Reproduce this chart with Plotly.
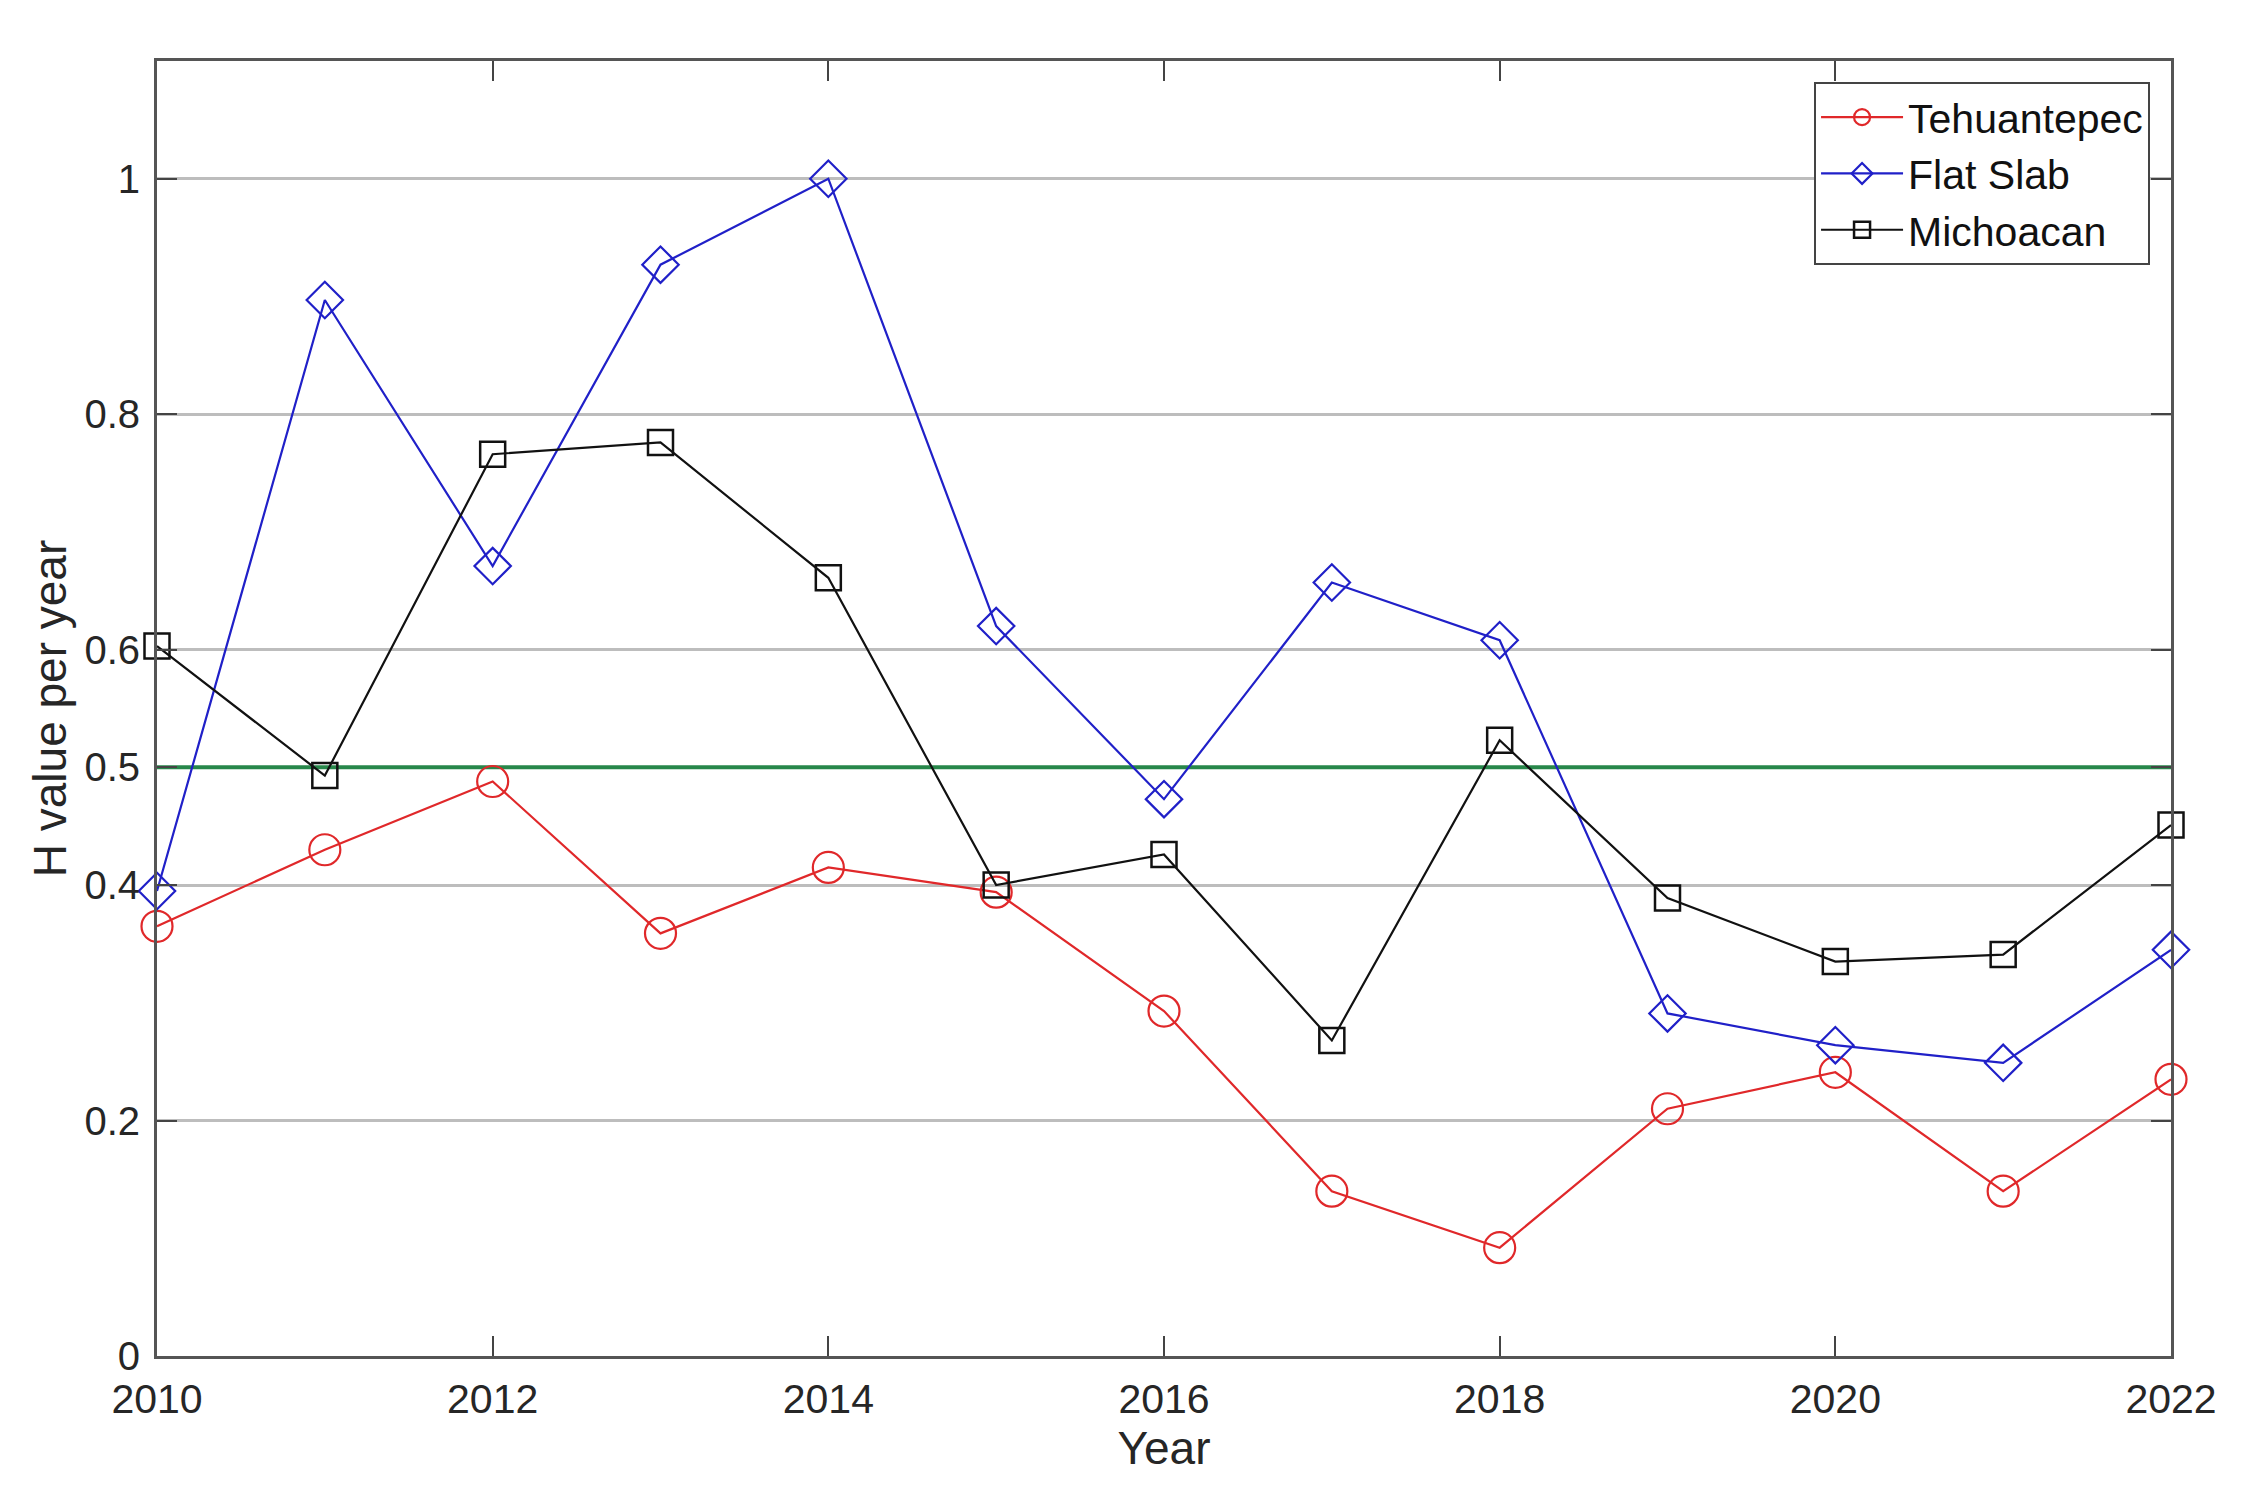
import plotly.graph_objects as go

years = [2010, 2011, 2012, 2013, 2014, 2015, 2016, 2017, 2018, 2019, 2020, 2021, 2022]
tehuantepec = [0.365, 0.430, 0.488, 0.359, 0.415, 0.394, 0.293, 0.140, 0.092, 0.210, 0.241, 0.140, 0.235]
flat_slab = [0.395, 0.897, 0.671, 0.927, 1.000, 0.620, 0.473, 0.657, 0.608, 0.291, 0.264, 0.249, 0.345]
michoacan = [0.603, 0.493, 0.766, 0.776, 0.661, 0.400, 0.426, 0.268, 0.523, 0.389, 0.335, 0.341, 0.451]
threshold = 0.5

x_ticks = [2010, 2012, 2014, 2016, 2018, 2020, 2022]
y_ticks = [0, 0.2, 0.4, 0.5, 0.6, 0.8, 1]
y_tick_labels = ["0", "0.2", "0.4", "0.5", "0.6", "0.8", "1"]

FONT = "Liberation Sans, Arial, Helvetica, sans-serif"

fig = go.Figure()

# threshold line
fig.add_trace(go.Scatter(
    x=[years[0], years[-1]], y=[threshold, threshold], mode="lines",
    line=dict(color="#27874a", width=4), showlegend=False, hoverinfo="skip",
))

fig.add_trace(go.Scatter(
    x=years, y=tehuantepec, name="Tehuantepec", mode="lines+markers",
    line=dict(color="#e0282a", width=2.2),
    marker=dict(symbol="circle-open", size=31, color="#e0282a", line=dict(width=2.2)),
    cliponaxis=False,
))
fig.add_trace(go.Scatter(
    x=years, y=flat_slab, name="Flat Slab", mode="lines+markers",
    line=dict(color="#2020c8", width=2.2),
    marker=dict(symbol="diamond-open", size=28, color="#2020c8", line=dict(width=2.2)),
    cliponaxis=False,
))
fig.add_trace(go.Scatter(
    x=years, y=michoacan, name="Michoacan", mode="lines+markers",
    line=dict(color="#111111", width=2.2),
    marker=dict(symbol="square-open", size=25, color="#111111", line=dict(width=2.5)),
    cliponaxis=False,
))

fig.update_layout(
    width=2259, height=1511,
    margin=dict(l=149, r=96, t=53, b=163),
    paper_bgcolor="white", plot_bgcolor="white",
    font=dict(family=FONT, size=40, color="#262626"),
    showlegend=True,
    legend=dict(
        x=0.9896, y=0.9838, xanchor="right", yanchor="top",
        bgcolor="white", bordercolor="#444444", borderwidth=2,
        font=dict(family=FONT, size=41, color="#111111"),
        itemwidth=82, tracegroupgap=0,
    ),
)

fig.update_xaxes(
    range=[2010, 2022], tickvals=x_ticks, ticks="inside", ticklen=20, tickwidth=2,
    tickcolor="#444444", showline=True, linecolor="#555555", linewidth=3, mirror="ticks",
    showgrid=False, zeroline=False,
    tickfont=dict(family=FONT, size=41, color="#262626"),
    ticklabelstandoff=5,
    title=dict(text="Year", font=dict(family=FONT, size=46, color="#262626"), standoff=4),
)
fig.update_yaxes(
    range=[0, 1.1], tickvals=y_ticks, ticktext=y_tick_labels, ticks="inside", ticklen=20, tickwidth=2,
    tickcolor="#444444", showline=True, linecolor="#555555", linewidth=3, mirror="ticks",
    showgrid=True, gridcolor="#bdbdbd", gridwidth=2.5, zeroline=False,
    tickfont=dict(family=FONT, size=40, color="#262626"),
    ticklabelstandoff=6,
    title=dict(text="H value per year", font=dict(family=FONT, size=46, color="#262626"), standoff=4),
)

fig.write_html("out.html")
